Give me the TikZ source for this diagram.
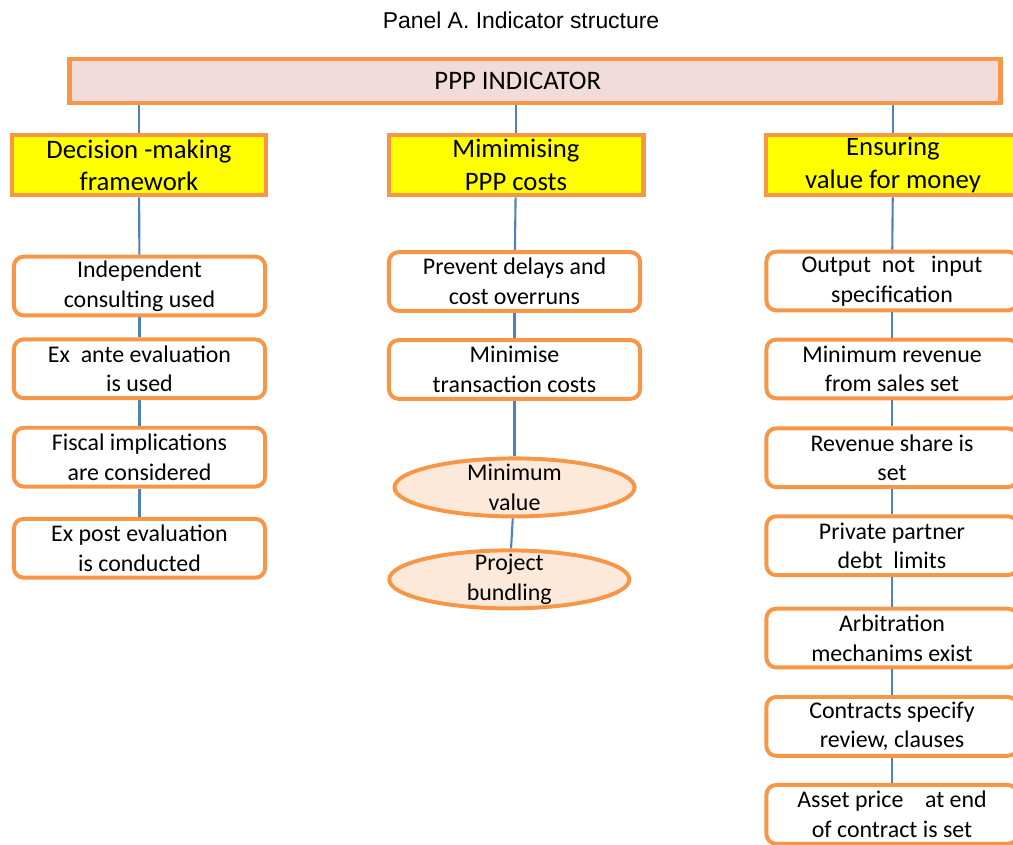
\documentclass[tikz,border=0pt]{standalone}
\usepackage{fontspec}
\setmainfont{Carlito}
\newfontfamily\titlefont{Liberation Sans}
\usetikzlibrary{shapes.geometric, positioning}

\definecolor{pppborder}{HTML}{F79646}
\definecolor{pppline}{HTML}{4F81BD}
\definecolor{ppppink}{HTML}{F2DCDB}
\definecolor{pppyellow}{HTML}{FFFF00}
\definecolor{pppcream}{HTML}{FDE9D9}

\begin{document}
\begin{tikzpicture}[
    x=0.025cm, y=-0.025cm,
    node distance=0.63cm,
    heading/.style={font=\titlefont\fontsize{16.3}{19}\selectfont},
    topbox/.style={rectangle, draw=pppborder, line width=3.5pt, fill=ppppink, minimum width=23.25cm, minimum height=1.1cm},
    pillar/.style={rectangle, draw=pppborder, line width=3.5pt, fill=pppyellow, minimum width=6.35cm, minimum height=1.5cm, align=center, inner sep=0pt, font=\fontsize{19}{23}\selectfont},
    item/.style={rectangle, rounded corners=7pt, draw=pppborder, line width=2.8pt, fill=white, minimum width=6.28cm, minimum height=1.47cm, align=center, inner sep=0pt, font=\fontsize{17}{21}\selectfont},
    oval/.style={ellipse, draw=pppborder, line width=2.8pt, fill=pppcream, minimum width=6cm, minimum height=1.45cm, inner sep=0pt},
    ovaltext/.style={align=center, font=\fontsize{17}{21}\selectfont},
    link/.style={draw=pppline, line width=1.5pt}
]
\useasboundingbox (0,0) rectangle (1013,844);

\node[heading] (title) at (521,20) {Panel A. Indicator structure};
\node[topbox, label={[xshift=-0.43cm, font=\fontsize{19}{23}\selectfont]center:PPP INDICATOR}] (ppp) at (535,81) {};

% three pillars
\node[pillar] (decision) at (139,165) {Decision -making\\framework};
\node[pillar] (costs) at (516,165) {Mimimising\\PPP costs};
\node[pillar] (money) at (893,165) {Ensuring\\value for money};

% decision-making column
\node[item] (consult) at (139.5,286) {Independent\\consulting used};
\node[item, below=0.5cm of consult] (exante) {Ex\ \ ante evaluation\\is used};
\node[item, below=0.64cm of exante] (fiscal) {Fiscal implications\\are considered};
\node[item, below=0.71cm of fiscal] (expost) {Ex post evaluation\\is conducted};

% costs column
\node[item] (delays) at (514.5,281.5) {Prevent delays and\\cost overruns};
\node[item, below=of delays] (transact) {Minimise\\transaction costs};
\node[oval, below=1.39cm of transact, label={[ovaltext]center:Minimum\\value}] (minvalue) {};
\node[oval, below=0.75cm of minvalue, xshift=-0.13cm, label={[ovaltext]center:Project\\bundling}] (bundling) {};

% value for money column
\node[item] (output) at (892,281) {Output\ \ not\ \ \ input\\specification};
\node[item, below=of output] (revenue) {Minimum revenue\\from sales set};
\node[item, below=0.65cm of revenue] (share) {Revenue share is\\set};
\node[item, below=of share] (debt) {Private partner\\debt\ \ limits};
\node[item, below=0.74cm of debt] (arbitration) {Arbitration\\mechanims exist};
\node[item, below=0.64cm of arbitration] (review) {Contracts specify\\review, clauses};
\node[item, below=of review] (asset) {Asset price\ \ \ \ at end\\of contract is set};

\draw[link] (ppp.south -| decision.north) -- (decision.north);
\draw[link] (ppp.south -| costs.north) -- (costs.north);
\draw[link] (ppp.south -| money.north) -- (money.north);

\draw[link] (decision) -- (consult);
\draw[link] (consult) -- (exante);
\draw[link] (exante) -- (fiscal);
\draw[link] (fiscal) -- (expost);

\draw[link] (costs) -- (delays);
\draw[link] (delays) -- (transact);
\draw[link] (transact) -- (minvalue);
\draw[link] (minvalue) -- (bundling);

\draw[link] (money) -- (output);
\draw[link] (output) -- (revenue);
\draw[link] (revenue) -- (share);
\draw[link] (share) -- (debt);
\draw[link] (debt) -- (arbitration);
\draw[link] (arbitration) -- (review);
\draw[link] (review) -- (asset);

\end{tikzpicture}
\end{document}
